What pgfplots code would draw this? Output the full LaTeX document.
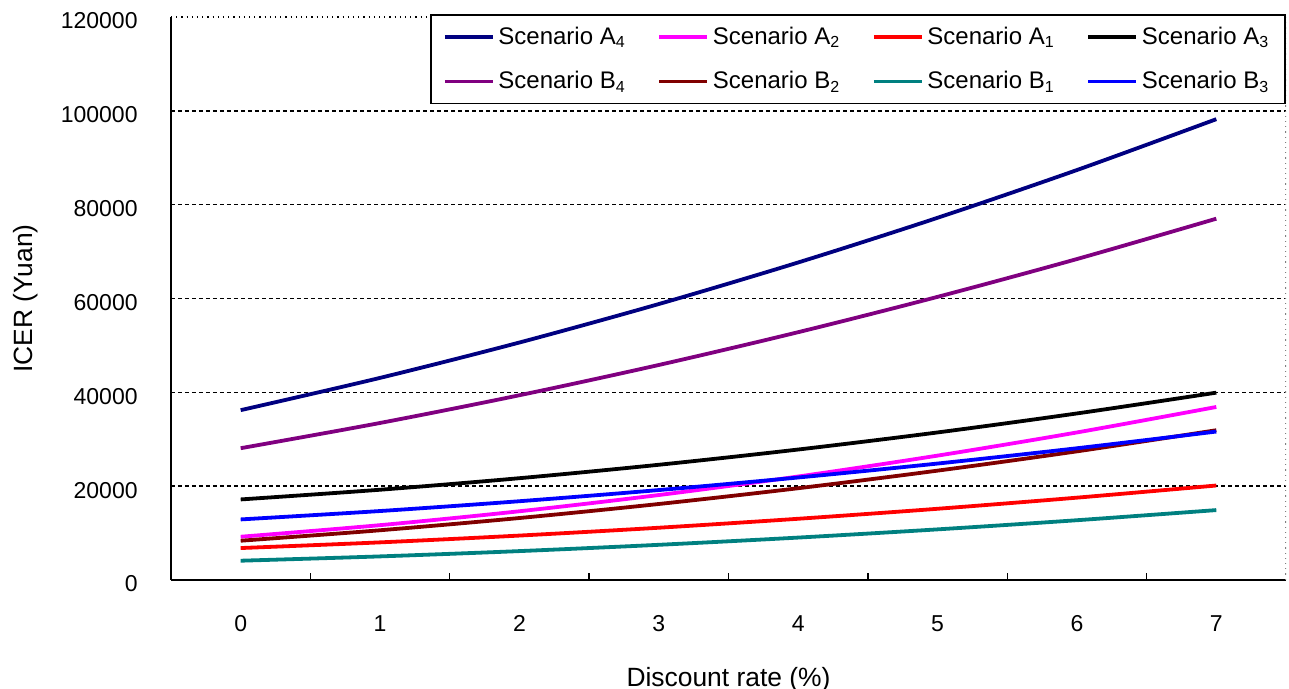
\documentclass[border=0pt]{standalone}
\usepackage{fontspec}
\setmainfont{Liberation Sans}
\usepackage{pgfplots}
\pgfplotsset{compat=1.18}

\definecolor{cA4}{RGB}{0,0,128}
\definecolor{cA2}{RGB}{255,0,255}
\definecolor{cA1}{RGB}{255,0,0}
\definecolor{cA3}{RGB}{0,0,0}
\definecolor{cB4}{RGB}{128,0,128}
\definecolor{cB2}{RGB}{128,0,0}
\definecolor{cB1}{RGB}{0,128,128}
\definecolor{cB3}{RGB}{0,0,255}

\begin{document}
\begin{tikzpicture}
\begin{axis}[
    name=ax,
    scale only axis,
    width=557.5pt, height=281.5pt,
    xmin=-0.5, xmax=7.5,
    ymin=0, ymax=120000,
    xtick={0,1,2,3,4,5,6,7},
    minor xtick={0.5,1.5,2.5,3.5,4.5,5.5,6.5},
    ytick={0,20000,40000,60000,80000,100000,120000},
    scaled y ticks=false,
    /pgf/number format/assume math mode=true,
    yticklabel style={/pgf/number format/fixed, /pgf/number format/1000 sep={},
        font=\fontsize{11.5}{13}\selectfont, anchor=east, inner sep=0pt, xshift=-16.5pt, yshift=-2pt},
    xticklabel style={font=\fontsize{11.5}{13}\selectfont, anchor=north, inner sep=0pt, yshift=-17.5pt},
    tick align=inside,
    major tick length=0pt,
    minor tick length=3.5pt,
    minor tick style={black, line width=0.7pt},
    axis lines*=left,
    axis line style={-, black, line width=0.8pt},
    extra y ticks={20000,40000,60000,80000,100000},
    extra y tick labels={},
    extra y tick style={grid=major, major grid style={black, line width=0.7pt, dash pattern=on 2pt off 1.5pt}},
    xlabel={Discount rate (\%)},
    ylabel={ICER (Yuan)},
    xlabel style={font=\fontsize{13.2}{15}\selectfont, at={(axis description cs:0.5,-0.1883)}, anchor=base},
    ylabel style={font=\fontsize{13.2}{15}\selectfont, at={(axis description cs:-0.1238,0.5)}, anchor=base},
    legend columns=4,
    legend cell align=left,
    legend style={at={(axis description cs:1,1)}, anchor=north east, yshift=1.5pt,
        draw=black, line width=0.8pt, fill=white,
        font=\fontsize{12}{14}\selectfont,
        inner xsep=6pt, inner ysep=4pt, row sep=8pt,
        /tikz/every even column/.append style={column sep=14pt}},
    legend image code/.code={\draw[#1, line width=1.6pt] (0pt,0pt) -- (24pt,0pt);},
    every axis plot/.append style={line width=1.9pt, smooth, no markers},
]
\draw[black, dotted, line width=0.6pt] (rel axis cs:0,1) -- (rel axis cs:1,1);
\draw[gray, dotted, line width=0.6pt] (rel axis cs:1,1) -- (rel axis cs:1,0);

\addplot[cA4] coordinates {(0,36200) (1,43080) (2,50620) (3,58820) (4,67680) (5,77200) (6,87380) (7,98220)};
\addlegendentry{Scenario A\textsubscript{4}}
\addplot[cA2] coordinates {(0,9220) (1,11690) (2,14650) (3,18110) (4,22060) (5,26510) (6,31450) (7,36880)};
\addlegendentry{Scenario A\textsubscript{2}}
\addplot[cA1] coordinates {(0,6810) (1,8020) (2,9470) (3,11140) (4,13050) (5,15180) (6,17550) (7,20140)};
\addlegendentry{Scenario A\textsubscript{1}}
\addplot[cA3] coordinates {(0,17170) (1,19240) (2,21700) (3,24560) (4,27810) (5,31450) (6,35500) (7,39930)};
\addlegendentry{Scenario A\textsubscript{3}}
\addplot[cB4] coordinates {(0,28090) (1,33470) (2,39380) (3,45830) (4,52820) (5,60350) (6,68410) (7,77010)};
\addlegendentry{Scenario B\textsubscript{4}}
\addplot[cB2] coordinates {(0,8370) (1,10600) (2,13210) (3,16200) (4,19560) (5,23310) (6,27420) (7,31920)};
\addlegendentry{Scenario B\textsubscript{2}}
\addplot[cB1] coordinates {(0,4110) (1,5030) (2,6160) (3,7500) (4,9040) (5,10790) (6,12740) (7,14900)};
\addlegendentry{Scenario B\textsubscript{1}}
\addplot[cB3] coordinates {(0,12910) (1,14700) (2,16790) (3,19170) (4,21850) (5,24820) (6,28080) (7,31640)};
\addlegendentry{Scenario B\textsubscript{3}}
\end{axis}
\pgfresetboundingbox
\path ([xshift=-85.5pt,yshift=-54.5pt]ax.south west) rectangle ([xshift=1.5pt,yshift=8.5pt]ax.north east);
\end{tikzpicture}
\end{document}
